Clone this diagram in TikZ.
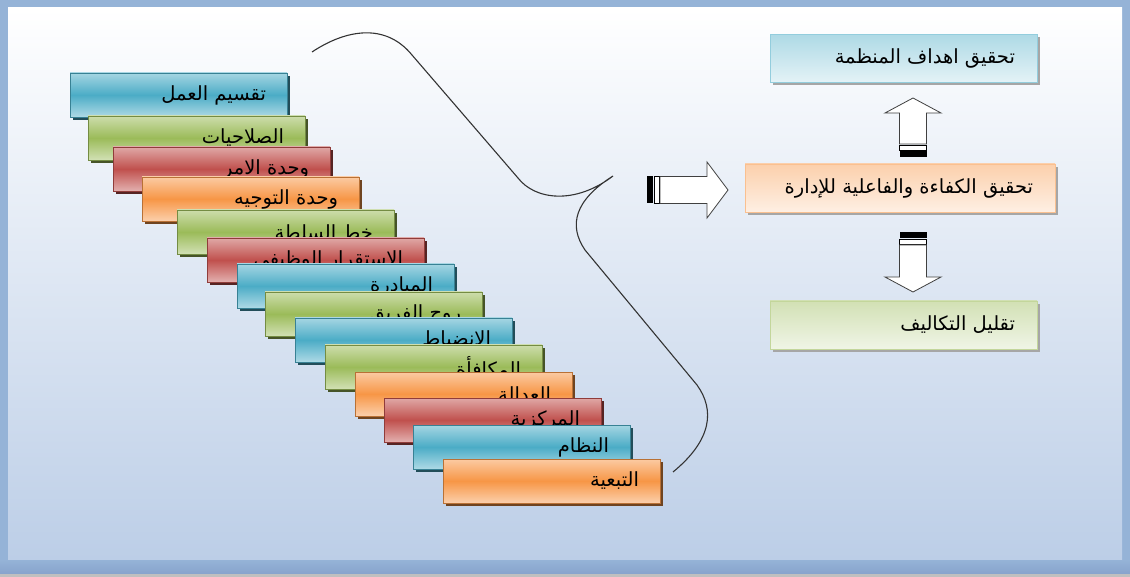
\documentclass[tikz,border=0pt]{standalone}
\usepackage{fontspec}
\newfontfamily\arabicfont[Script=Arabic]{DejaVu Sans}
\TeXXeTstate=1
\usetikzlibrary{shadows}

\definecolor{frameblue}{RGB}{149,179,215}
\definecolor{framedark}{RGB}{135,163,204}
\definecolor{bgblue}{RGB}{188,206,231}
\definecolor{boxblue}{RGB}{75,172,198}
\definecolor{boxgreen}{RGB}{155,187,89}
\definecolor{boxred}{RGB}{192,80,77}
\definecolor{boxorange}{RGB}{247,150,70}

\tikzset{
  principle/.style = {minimum width=217pt, minimum height=44pt, inner sep=0pt,
    draw=#1!75!black, line width=0.4pt,
    top color=#1!50!white, bottom color=#1!45!white, middle color=#1,
    drop shadow={shadow xshift=3pt, shadow yshift=-3pt, fill=#1!45!black, opacity=1}},
  principletext/.style = {anchor=east, inner sep=0pt, text=black,
    font=\arabicfont\fontsize{19.5}{22}\selectfont},
  goalbox/.style = {minimum height=48pt, inner sep=0pt, draw=#1!60!white, line width=0.4pt,
    top color=#1!45!white, bottom color=#1!15!white,
    drop shadow={shadow xshift=3pt, shadow yshift=-3pt, fill=black!35, opacity=1}},
}

\newcommand\stripedarrow[4]{%
  \begin{scope}[shift={#1}, rotate=#2]
    \fill[black] (0,-13.5) rectangle (6,13.5);
    \draw[fill=white, line width=0.6pt] (7,-13.5) rectangle (12,13.5);
    \draw[fill=white, line width=0.8pt, draw=black!75]
      (13,-13.5) -- (#3-#4,-13.5) -- (#3-#4,-28) -- (#3,0) -- (#3-#4,28) -- (#3-#4,13.5) -- (13,13.5) -- cycle;
  \end{scope}}

\begin{document}
\begin{tikzpicture}[x=1pt, y=-1pt]
\useasboundingbox (0,0) rectangle (1130,577);
\fill[frameblue] (0,0) rectangle (1130,577);
\shade[top color=white, bottom color=bgblue] (8,8) rectangle (1122,560);
\shade[top color=frameblue, bottom color=framedark] (0,560) rectangle (1130,574);
\fill[black!25] (0,574) rectangle (1130,577);

\foreach \x/\y/\c/\t [count=\n] in {
  70/73/boxblue/{تقسيم العمل},
  88/116/boxgreen/{الصلاحيات},
  113/147/boxred/{وحدة الامر},
  142/177/boxorange/{وحدة التوجيه},
  177/210/boxgreen/{خط السلطة},
  207/238/boxred/{الاستقرار الوظيفي},
  237/264/boxblue/{المبادرة},
  265/292/boxgreen/{روح الفريق},
  295/318/boxblue/{الانضباط},
  325/345/boxgreen/{المكافأة},
  355/372/boxorange/{العدالة},
  384/398/boxred/{المركزية},
  413/425/boxblue/{النظام},
  443/459/boxorange/{التبعية}}
{
  \node[principle=\c] (p\n) at (\x+108.5,\y+22) {};
  \node[principletext] (t\n) at ([xshift=-21pt]p\n.east) {\beginR\t\endR};
}

\draw[line width=1.1pt, black!80] (312,52) .. controls (345,30) and (385,22) .. (412,55)
  -- (518,178) .. controls (535,200) and (575,205) .. (613,176)
  .. controls (575,200) and (568,225) .. (585,250)
  -- (697,385) .. controls (715,410) and (712,440) .. (673,472);

\node[goalbox=boxblue, minimum width=267pt] (goal) at (903.5,58.5) {};
\node[goalbox=boxorange, minimum width=310pt] (mid) at (900,188) {};
\node[goalbox=boxgreen, minimum width=267pt] (cost) at (903.5,325) {};
\node[principletext] (goaltext) at ([xshift=-22pt]goal.east) {\beginR تحقيق اهداف المنظمة\endR};
\node[principletext] (midtext) at ([xshift=-22pt]mid.east) {\beginR تحقيق الكفاءة والفاعلية للإدارة\endR};
\node[principletext] (costtext) at ([xshift=-22pt]cost.east) {\beginR تقليل التكاليف\endR};

\coordinate (intail) at (647,190);
\coordinate (uptail) at (913,157);
\coordinate (downtail) at (913,232);
\stripedarrow{(intail)}{0}{81}{21}
\stripedarrow{(uptail)}{90}{59}{15}
\stripedarrow{(downtail)}{-90}{60}{15}
\end{tikzpicture}
\end{document}
